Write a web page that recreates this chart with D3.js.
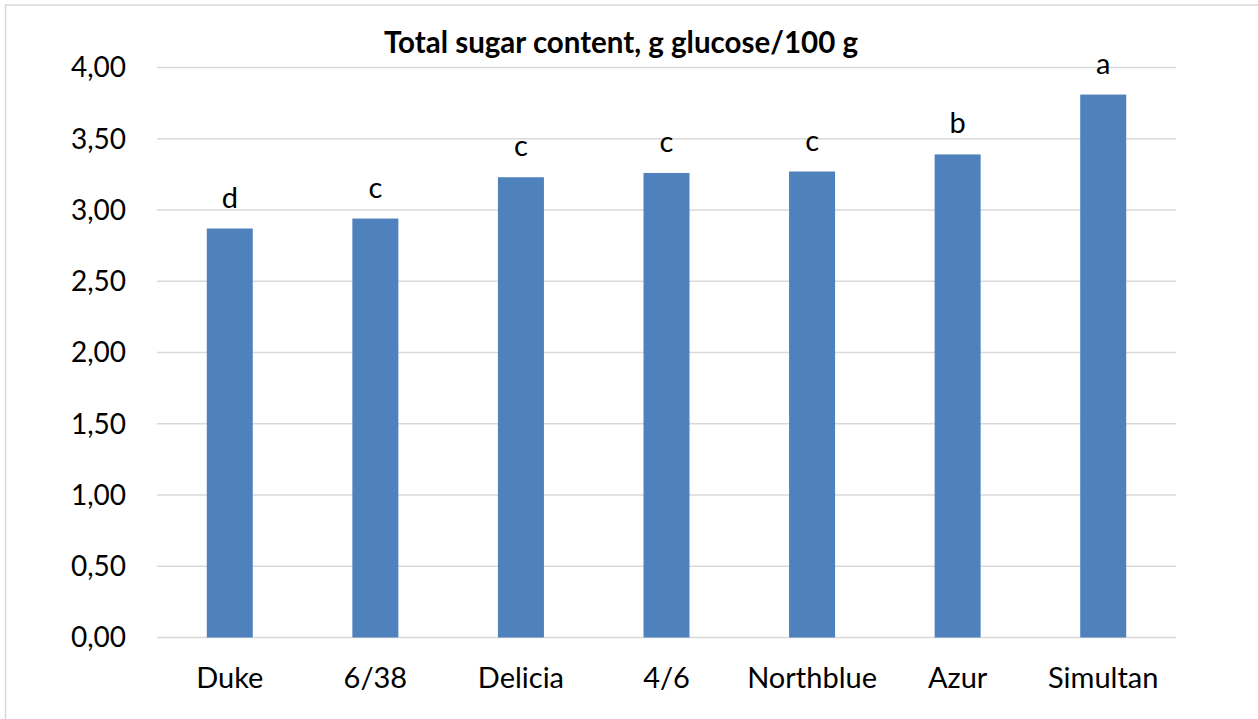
<!DOCTYPE html>
<html>
<head>
<meta charset="utf-8">
<script src="https://cdn.jsdelivr.net/npm/d3@7"></script>
<style>
  body { margin: 0; background: #fff; }
  text { font-family: Lato, "Open Sans", sans-serif; fill: #000; }
</style>
</head>
<body>
<script>
const categories = ['Duke', '6/38', 'Delicia', '4/6', 'Northblue', 'Azur', 'Simultan'];
const values = [2.87, 2.94, 3.23, 3.26, 3.27, 3.39, 3.81];
const letters = ['d', 'c', 'c', 'c', 'c', 'b', 'a'];
const yTicks = [0, 0.5, 1, 1.5, 2, 2.5, 3, 3.5, 4];
const title = 'Total sugar content, g glucose/100 g';

const width = 1258;
const height = 719;
const margin = { top: 67.5, right: 82, bottom: 81.5, left: 157 };

const svg = d3.select('body')
  .append('svg')
    .attr('width', width)
    .attr('height', height);

// chart area border (only top/left visible in the crop)
svg.append('rect')
  .attr('x', 5.5)
  .attr('y', 5)
  .attr('width', width + 20)
  .attr('height', height + 20)
  .attr('fill', 'none')
  .attr('stroke', '#d9d9d9')
  .attr('stroke-width', 1.5);

const x = d3.scaleBand()
  .domain(categories)
  .range([margin.left, width - margin.right])
  .paddingInner(0.684)
  .paddingOuter(0.342);

const y = d3.scaleLinear()
  .domain([0, 4])
  .range([height - margin.bottom, margin.top]);

// gridlines
svg.append('g')
  .selectAll('line')
  .data(yTicks)
  .join('line')
    .attr('x1', margin.left)
    .attr('x2', width - margin.right)
    .attr('y1', d => y(d))
    .attr('y2', d => y(d))
    .attr('stroke', '#d9d9d9')
    .attr('stroke-width', 1.5);

// y axis labels
const fmt = d => d3.format('.2f')(d).replace('.', ',');
svg.append('g')
  .selectAll('text')
  .data(yTicks)
  .join('text')
    .attr('x', 126)
    .attr('y', d => y(d))
    .attr('dy', '0.35em')
    .attr('text-anchor', 'end')
    .style('font-size', '28px')
    .text(fmt);

// bars
svg.append('g')
  .selectAll('rect')
  .data(values)
  .join('rect')
    .attr('x', (d, i) => x(categories[i]))
    .attr('width', x.bandwidth())
    .attr('y', d => y(d))
    .attr('height', d => y(0) - y(d))
    .attr('fill', '#4f81bd');

// significance letters
svg.append('g')
  .selectAll('text')
  .data(values)
  .join('text')
    .attr('x', (d, i) => x(categories[i]) + x.bandwidth() / 2)
    .attr('y', d => y(d) - 21)
    .attr('text-anchor', 'middle')
    .style('font-size', '29px')
    .text((d, i) => letters[i]);

// category labels
svg.append('g')
  .selectAll('text')
  .data(categories)
  .join('text')
    .attr('x', d => x(d) + x.bandwidth() / 2)
    .attr('y', 688)
    .attr('text-anchor', 'middle')
    .style('font-size', '29px')
    .text(d => d);

svg.append('text')
  .attr('x', 621)
  .attr('y', 53)
  .attr('text-anchor', 'middle')
  .style('font-size', '29.5px')
  .style('font-weight', 'bold')
  .text(title);
</script>
</body>
</html>
